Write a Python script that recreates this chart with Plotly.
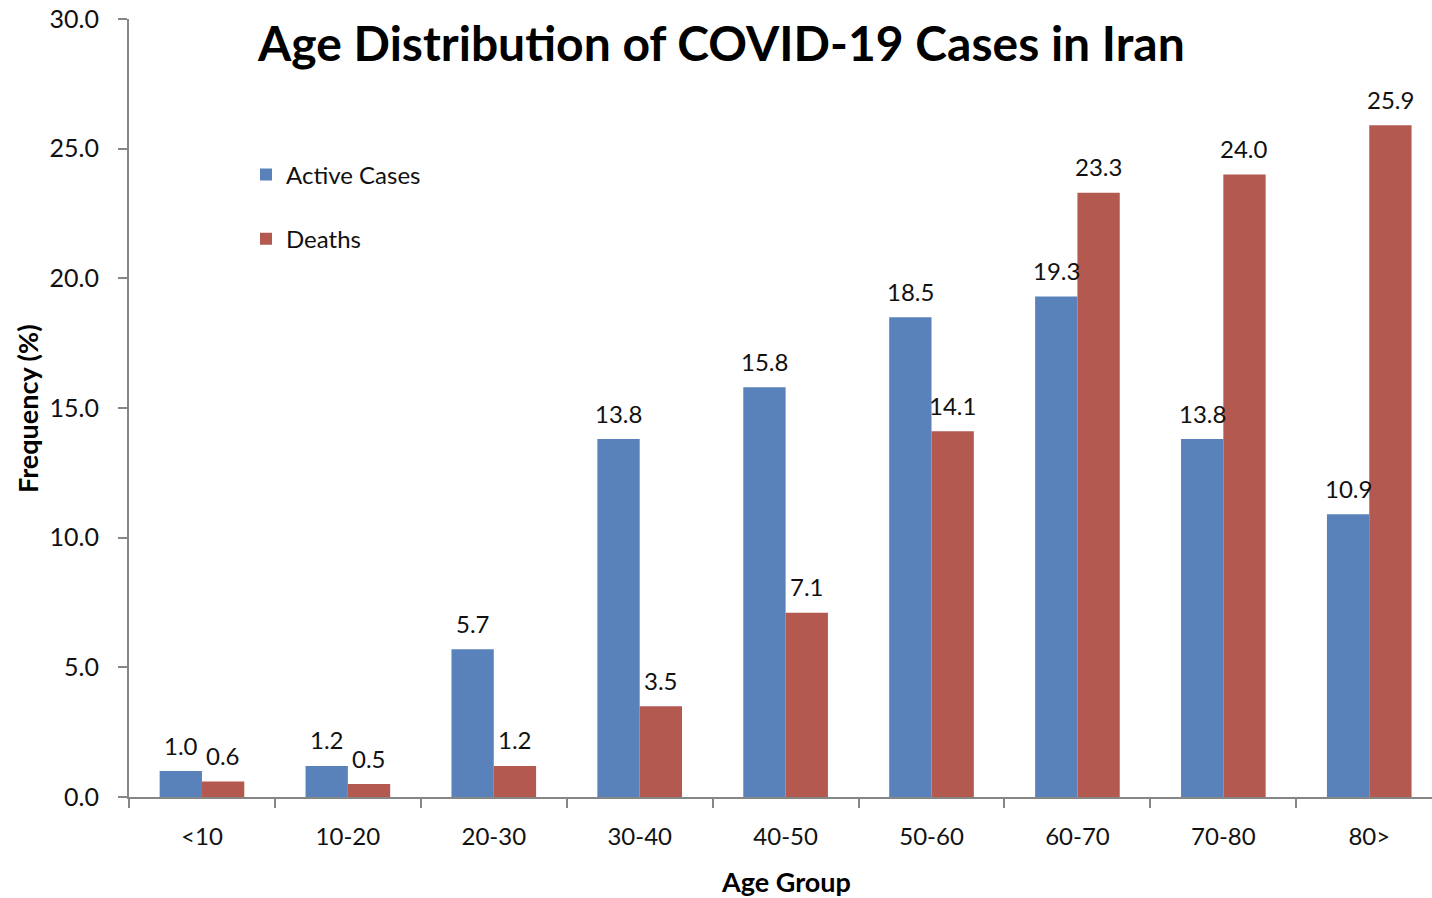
import plotly.graph_objects as go

categories = ["<10", "10-20", "20-30", "30-40", "40-50", "50-60", "60-70", "70-80", "80>"]
active_cases = [1.0, 1.2, 5.7, 13.8, 15.8, 18.5, 19.3, 13.8, 10.9]
deaths = [0.6, 0.5, 1.2, 3.5, 7.1, 14.1, 23.3, 24.0, 25.9]
y_ticks = [0, 5, 10, 15, 20, 25, 30]

BLUE = "#5882B9"
RED = "#B35950"
FONT = "Lato, 'Open Sans', sans-serif"
AXIS = "#868686"

W, H = 1432, 898
ML, MR, MT, MB = 129, 0, 19, 101
plot_w = W - ML - MR
plot_h = H - MT - MB


def px_x(px):
    return (px - ML) / plot_w


def px_y(py):
    return (H - MB - py) / plot_h


fig = go.Figure()
fig.add_trace(go.Bar(x=categories, y=active_cases, name="Active Cases",
                     marker=dict(color=BLUE, line=dict(width=0)), legendgroup="a"))
fig.add_trace(go.Bar(x=categories, y=deaths, name="Deaths",
                     marker=dict(color=RED, line=dict(width=0)), legendgroup="d"))

annotations = []
for c, v in zip(categories, active_cases):
    annotations.append(dict(x=c, y=v, xref="x", yref="y", text=f"{v:.1f}", showarrow=False,
                            xshift=-21, yshift=26, yanchor="middle", xanchor="center",
                            font=dict(family=FONT, size=24, color="#111")))
for c, v in zip(categories, deaths):
    annotations.append(dict(x=c, y=v, xref="x", yref="y", text=f"{v:.1f}", showarrow=False,
                            xshift=21, yshift=26, yanchor="middle", xanchor="center",
                            font=dict(family=FONT, size=24, color="#111")))

annotations.append(dict(text="<b>Age Distribution of COVID-19 Cases in Iran</b>",
                        x=px_x(721), y=px_y(42), xref="paper", yref="paper",
                        xanchor="center", yanchor="middle", showarrow=False,
                        font=dict(family=FONT, size=48, color="#000")))
annotations.append(dict(text="<b>Age Group</b>", x=px_x(786), y=px_y(882),
                        xref="paper", yref="paper", xanchor="center", yanchor="middle",
                        showarrow=False, font=dict(family=FONT, size=27, color="#000")))
annotations.append(dict(text="<b>Frequency (%)</b>", x=px_x(28), y=px_y(409),
                        xref="paper", yref="paper", xanchor="center", yanchor="middle",
                        textangle=-90, showarrow=False,
                        font=dict(family=FONT, size=27, color="#000")))

fig.update_layout(
    width=W, height=H,
    margin=dict(l=ML, r=MR, t=MT, b=MB, autoexpand=False),
    plot_bgcolor="white", paper_bgcolor="white",
    barmode="group", bargap=0.42, bargroupgap=0,
    font=dict(family=FONT, size=24, color="#111"),
    showlegend=True,
    legend=dict(x=px_x(246), y=px_y(207), xanchor="left", yanchor="middle",
                font=dict(family=FONT, size=24, color="#111"),
                tracegroupgap=30, traceorder="grouped", itemwidth=30,
                bgcolor="rgba(0,0,0,0)"),
    xaxis=dict(range=[-0.5, 8.43], showline=True, linecolor=AXIS, linewidth=2,
               ticks="outside", tickson="boundaries", ticklen=9, tickcolor=AXIS, tickwidth=2,
               showgrid=False, tickfont=dict(size=24), ticklabelstandoff=17,
               automargin=False),
    yaxis=dict(range=[0, 30], tickvals=y_ticks, tickformat=".1f", showline=True,
               linecolor=AXIS, linewidth=2, ticks="outside", ticklen=9, tickcolor=AXIS,
               tickwidth=2, showgrid=False, zeroline=False, tickfont=dict(size=25),
               ticklabelstandoff=14, automargin=False),
    annotations=annotations,
)

fig.write_html("out.html", config={"displayModeBar": False},
               post_script="document.body.style.margin='0';document.body.style.overflow='hidden';")
